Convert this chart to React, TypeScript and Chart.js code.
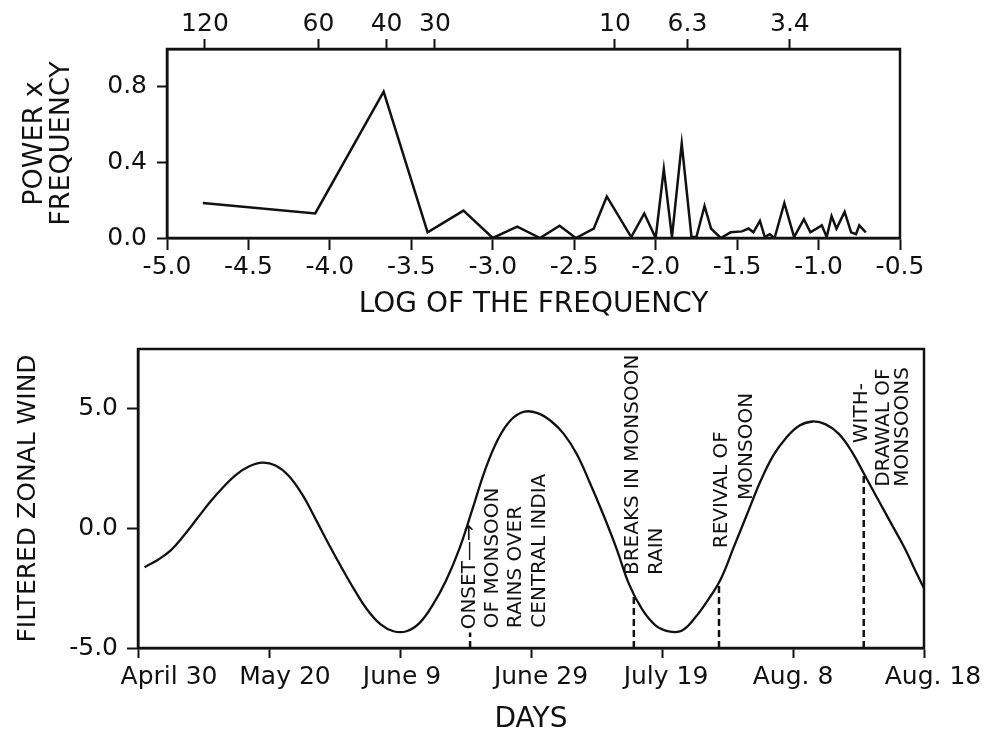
import React, { useEffect, useRef } from "react";
import { Chart, registerables } from "chart.js";

Chart.register(...registerables);

const INK = "#111111";
const FAMILY = "'DejaVu Sans', sans-serif";

// ---------- Top panel: power x frequency spectrum ----------
const logFrequency = [
  -4.78, -4.09, -3.67, -3.4, -3.18, -3.0, -2.85, -2.71, -2.59, -2.49, -2.38, -2.3,
  -2.15, -2.07, -2.0, -1.95, -1.9, -1.84, -1.78, -1.75, -1.7, -1.66, -1.6, -1.54,
  -1.47, -1.43, -1.4, -1.36, -1.33, -1.3, -1.27, -1.21, -1.15, -1.09, -1.05, -0.98,
  -0.95, -0.92, -0.89, -0.84, -0.8, -0.77, -0.75, -0.71,
];
const powerTimesFrequency = [
  0.185, 0.13, 0.775, 0.03, 0.145, 0.0, 0.06, 0.0, 0.065, 0.0, 0.05, 0.22,
  0.005, 0.13, 0.0, 0.365, 0.005, 0.5, 0.005, 0.005, 0.17, 0.05, 0.0, 0.03,
  0.035, 0.05, 0.03, 0.09, 0.005, 0.02, 0.0, 0.185, 0.005, 0.1, 0.03, 0.067,
  0.005, 0.115, 0.05, 0.138, 0.03, 0.02, 0.067, 0.03,
];
const logFrequencyMin = -5.0;
const logFrequencyMax = -0.5;
const logFrequencyStep = 0.5;
const powerTickValues = [0.0, 0.4, 0.8];
const powerMax = 1.0;
// period (days) labels on the upper axis, placed at their log-frequency
const periodTickLabels = ["120", "60", "40", "30", "10", "6.3", "3.4"];
const periodTickLogFrequency = [-4.767, -4.07, -3.652, -3.355, -2.25, -1.805, -1.176];

// ---------- Bottom panel: filtered zonal wind ----------
const dayOffsets = [
  1, 3, 5, 7, 9, 11, 13, 15, 17, 19, 21, 23, 25, 27, 29, 31, 33, 35, 37, 39,
  41, 43, 45, 47, 49, 51, 53, 55, 57, 59, 61, 63, 65, 67, 69, 71, 73, 75, 77, 79,
  81, 83, 85, 87, 89, 91, 93, 95, 97, 99, 101, 103, 105, 107, 109, 111, 113, 115, 117, 119,
  120,
];
const filteredZonalWind = [
  -1.62, -1.32, -0.92, -0.3, 0.4, 1.1, 1.72, 2.25, 2.6, 2.75,
  2.63, 2.2, 1.45, 0.45, -0.6, -1.6, -2.55, -3.4, -4.0, -4.3,
  -4.3, -3.95, -3.2, -2.2, -0.9, 0.75, 2.45, 3.75, 4.55, 4.88,
  4.82, 4.5, 3.95, 3.1, 1.9, 0.6, -0.8, -2.35, -3.4, -4.05,
  -4.3, -4.28, -3.75, -3.0, -2.1, -0.75, 0.6, 1.95, 3.05, 3.8,
  4.3, 4.47, 4.35, 3.95, 3.2, 2.2, 1.2, 0.2, -0.8, -1.95,
  -2.5,
];
const dayTickValues = [0, 20, 40, 60, 80, 100, 120];
const dayTickLabels = ["April 30", "May 20", "June 9", "June 29", "July 19", "Aug. 8", "Aug. 18"];
const windTickValues = [-5, 0, 5];
const windMin = -5;
const windMax = 7.5;

// monsoon events (day offset from April 30)
const eventDays = [50.7, 75.7, 88.7, 110.8];
const eventMarkerTop: (number | null)[] = [-4.35, null, null, null]; // null = up to the curve
const eventTexts = [
  ["ONSET—→", "OF MONSOON", "RAINS OVER", "CENTRAL INDIA"],
  ["BREAKS IN MONSOON", "RAIN"],
  ["REVIVAL OF", "MONSOON"],
  ["WITH-", "DRAWAL OF", "MONSOONS"],
];

// ---------- layout (not data) ----------
// anchor of each rotated text line: [day of column centre, wind value at text start]
const eventTextAnchors = [
  [[50.7, -4.22], [54.2, -4.17], [57.7, -4.17], [61.4, -4.15]],
  [[75.6, -1.95], [79.2, -1.95]],
  [[89.1, -0.83], [92.9, 1.19]],
  [[110.5, 3.56], [113.8, 1.74], [116.7, 1.74]],
];
const dayLabelShiftPx = [31, 16, 2, 10, 4, 0, 9];

function windAt(day: number): number {
  for (let i = 0; i < dayOffsets.length - 1; i++) {
    if (day >= dayOffsets[i] && day <= dayOffsets[i + 1]) {
      const t = (day - dayOffsets[i]) / (dayOffsets[i + 1] - dayOffsets[i]);
      return filteredZonalWind[i] + t * (filteredZonalWind[i + 1] - filteredZonalWind[i]);
    }
  }
  return filteredZonalWind[filteredZonalWind.length - 1];
}

const framePlugin = {
  id: "frame",
  afterDatasetsDraw(chart: any) {
    const { ctx, chartArea: a } = chart;
    ctx.save();
    ctx.strokeStyle = INK;
    ctx.lineWidth = 2.5;
    ctx.strokeRect(a.left, a.top, a.right - a.left, a.bottom - a.top);
    ctx.restore();
  },
};

const zeroPad = (s: any) => {
  s.paddingTop = 0;
  s.paddingBottom = 0;
  s.paddingLeft = 0;
  s.paddingRight = 0;
};

const eventsPlugin = {
  id: "monsoonEvents",
  afterDatasetsDraw(chart: any) {
    const { ctx } = chart;
    const x = chart.scales.x;
    const y = chart.scales.y;
    ctx.save();
    ctx.strokeStyle = INK;
    ctx.lineWidth = 2.5;
    ctx.setLineDash([7, 4]);
    eventDays.forEach((d, i) => {
      const top = eventMarkerTop[i] ?? windAt(d);
      const px = x.getPixelForValue(d);
      ctx.beginPath();
      ctx.moveTo(px, y.getPixelForValue(windMin));
      ctx.lineTo(px, y.getPixelForValue(top));
      ctx.stroke();
    });
    ctx.setLineDash([]);
    ctx.fillStyle = INK;
    ctx.font = `20px ${FAMILY}`;
    ctx.textAlign = "left";
    ctx.textBaseline = "middle";
    eventTexts.forEach((lines, i) => {
      lines.forEach((line, j) => {
        const [d, v] = eventTextAnchors[i][j];
        ctx.save();
        ctx.translate(x.getPixelForValue(d), y.getPixelForValue(v));
        ctx.rotate(-Math.PI / 2);
        ctx.fillText(line, 0, 0);
        ctx.restore();
      });
    });
    ctx.restore();
  },
};

const dayLabelPlugin = {
  id: "dayLabels",
  afterDraw(chart: any) {
    const { ctx, chartArea } = chart;
    const x = chart.scales.x;
    ctx.save();
    ctx.fillStyle = INK;
    ctx.font = `25px ${FAMILY}`;
    ctx.textAlign = "center";
    ctx.textBaseline = "middle";
    dayTickValues.forEach((v, i) => {
      ctx.fillText(dayTickLabels[i], x.getPixelForValue(v) + dayLabelShiftPx[i], chartArea.bottom + 29);
    });
    ctx.restore();
  },
};

function topConfig(): any {
  return {
    type: "line",
    data: {
      datasets: [
        {
          data: logFrequency.map((v, i) => ({ x: v, y: powerTimesFrequency[i] })),
          borderColor: INK,
          borderWidth: 2.5,
          pointRadius: 0,
          tension: 0,
          fill: false,
        },
      ],
    },
    options: {
      responsive: false,
      maintainAspectRatio: false,
      animation: false,
      devicePixelRatio: 1,
      layout: { padding: { left: 0, right: 96, top: 0, bottom: 0 } },
      plugins: { legend: { display: false }, tooltip: { enabled: false } },
      scales: {
        x: {
          type: "linear",
          position: "bottom",
          min: logFrequencyMin,
          max: logFrequencyMax,
          ticks: {
            stepSize: logFrequencyStep,
            autoSkip: false,
            maxRotation: 0,
            padding: 2,
            color: INK,
            font: { family: FAMILY, size: 25 },
            callback: (v: number) => Number(v).toFixed(1),
          },
          grid: { drawOnChartArea: false, drawTicks: true, tickLength: 12, tickWidth: 2, tickColor: INK },
          border: { display: true, color: INK, width: 2.5 },
          title: {
            display: true,
            text: "LOG OF THE FREQUENCY",
            color: INK,
            font: { family: FAMILY, size: 28, lineHeight: 1.2 },
            padding: { top: 0, bottom: 8 },
          },
          afterFit: (s: any) => {
            s.height = 92;
            zeroPad(s);
          },
        },
        xTop: {
          type: "linear",
          position: "top",
          min: logFrequencyMin,
          max: logFrequencyMax,
          afterBuildTicks: (s: any) => {
            s.ticks = periodTickLogFrequency.map((v) => ({ value: v }));
          },
          ticks: {
            autoSkip: false,
            maxRotation: 0,
            padding: 0,
            color: INK,
            font: { family: FAMILY, size: 25 },
            callback: (_v: number, i: number) => periodTickLabels[i],
          },
          grid: { drawOnChartArea: false, drawTicks: true, tickLength: 10, tickWidth: 2, tickColor: INK },
          border: { display: true, color: INK, width: 2.5 },
          afterFit: (s: any) => {
            s.height = 49;
            zeroPad(s);
          },
        },
        y: {
          type: "linear",
          min: 0,
          max: powerMax,
          afterBuildTicks: (s: any) => {
            s.ticks = powerTickValues.map((v) => ({ value: v }));
          },
          ticks: {
            padding: 10,
            color: INK,
            font: { family: FAMILY, size: 25 },
            callback: (v: number) => Number(v).toFixed(1),
          },
          grid: { drawOnChartArea: false, drawTicks: true, tickLength: 10, tickWidth: 2, tickColor: INK },
          border: { display: true, color: INK, width: 2.5 },
          title: {
            display: true,
            text: ["POWER x", "FREQUENCY"],
            color: INK,
            font: { family: FAMILY, size: 27, lineHeight: 1.0 },
            padding: { top: 21, bottom: 0 },
          },
          afterFit: (s: any) => {
            s.width = 167;
            zeroPad(s);
          },
        },
      },
    },
    plugins: [framePlugin],
  };
}

function bottomConfig(): any {
  return {
    type: "line",
    data: {
      datasets: [
        {
          data: dayOffsets.map((d, i) => ({ x: d, y: filteredZonalWind[i] })),
          borderColor: INK,
          borderWidth: 2.3,
          pointRadius: 0,
          tension: 0.4,
          fill: false,
        },
      ],
    },
    options: {
      responsive: false,
      maintainAspectRatio: false,
      animation: false,
      devicePixelRatio: 1,
      layout: { padding: { left: 0, right: 72, top: 19, bottom: 0 } },
      plugins: { legend: { display: false }, tooltip: { enabled: false } },
      scales: {
        x: {
          type: "linear",
          position: "bottom",
          min: dayTickValues[0],
          max: dayTickValues[dayTickValues.length - 1],
          afterBuildTicks: (s: any) => {
            s.ticks = dayTickValues.map((v) => ({ value: v }));
          },
          ticks: { display: false },
          grid: { drawOnChartArea: false, drawTicks: true, tickLength: 10, tickWidth: 2, tickColor: INK },
          border: { display: true, color: INK, width: 2.5 },
          title: {
            display: true,
            text: "DAYS",
            color: INK,
            font: { family: FAMILY, size: 28, lineHeight: 0.75 },
            padding: { top: 0, bottom: 0 },
          },
          afterFit: (s: any) => {
            s.height = 82;
            zeroPad(s);
          },
        },
        y: {
          type: "linear",
          min: windMin,
          max: windMax,
          afterBuildTicks: (s: any) => {
            s.ticks = windTickValues.map((v) => ({ value: v }));
          },
          ticks: {
            padding: 9,
            color: INK,
            font: { family: FAMILY, size: 25 },
            callback: (v: number) => Number(v).toFixed(1),
          },
          grid: { drawOnChartArea: false, drawTicks: true, tickLength: 11, tickWidth: 2, tickColor: INK },
          border: { display: true, color: INK, width: 2.5 },
          title: {
            display: true,
            text: "FILTERED ZONAL WIND",
            color: INK,
            font: { family: FAMILY, size: 25, lineHeight: 1.2 },
            padding: { top: 13, bottom: 0 },
          },
          afterFit: (s: any) => {
            s.width = 138;
            zeroPad(s);
          },
        },
      },
    },
    plugins: [framePlugin, eventsPlugin, dayLabelPlugin],
  };
}

export default function App() {
  const topRef = useRef<HTMLCanvasElement>(null);
  const bottomRef = useRef<HTMLCanvasElement>(null);

  useEffect(() => {
    document.body.style.margin = "0";
    document.body.style.background = "#ffffff";
    const top = new Chart(topRef.current as HTMLCanvasElement, topConfig());
    const bottom = new Chart(bottomRef.current as HTMLCanvasElement, bottomConfig());
    return () => {
      top.destroy();
      bottom.destroy();
    };
  }, []);

  return (
    <div style={{ position: "relative", width: 996, height: 730, background: "#ffffff", overflow: "hidden" }}>
      <canvas ref={topRef} width={996} height={330} style={{ position: "absolute", left: 0, top: 0 }} />
      <canvas ref={bottomRef} width={996} height={400} style={{ position: "absolute", left: 0, top: 330 }} />
    </div>
  );
}
